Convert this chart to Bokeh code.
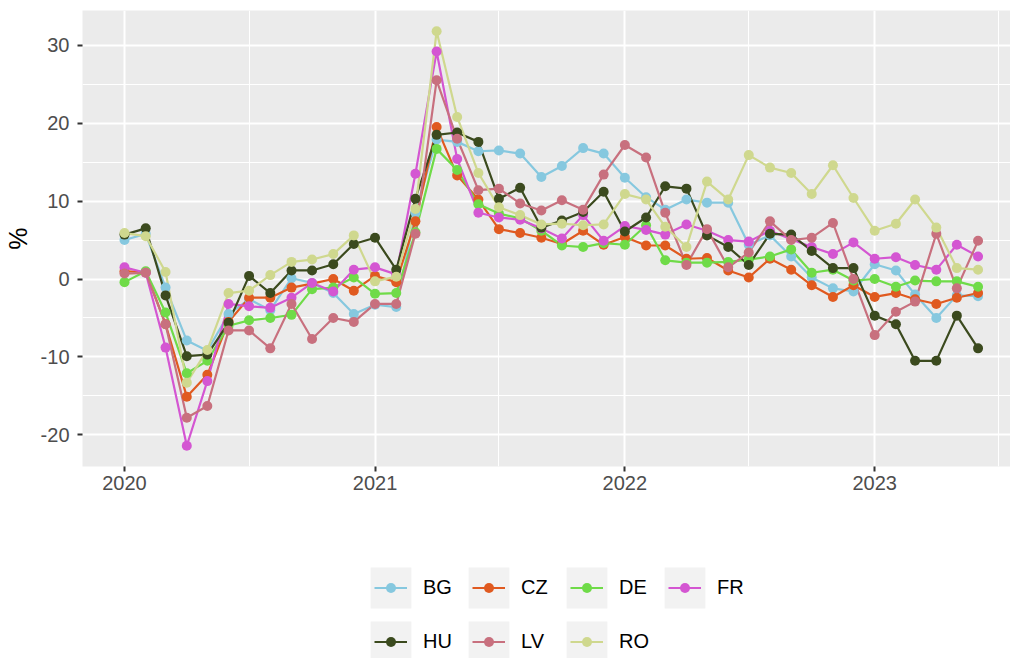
import pandas as pd
from bokeh.plotting import figure
from bokeh.layouts import column
from bokeh.models import (Legend, LegendItem, Range1d, FixedTicker, ColumnDataSource,
                          DatetimeTickFormatter)
from bokeh.embed import file_html
from bokeh.resources import INLINE

# ---------------- data ----------------
months = pd.date_range("2020-01-01", "2023-06-01", freq="MS")

countries = ["BG", "CZ", "DE", "FR", "HU", "LV", "RO"]

BG = [5.0, 5.8, -1.1, -7.9, -9.2, -4.5, -2.6, -4.0, 0.1, -0.5, -1.8, -4.5,
      -3.3, -3.6, 8.5, 17.9, 17.6, 16.4, 16.5, 16.1, 13.1, 14.5, 16.8, 16.1,
      13.0, 10.5, 8.9, 10.2, 9.8, 9.8, 4.4, 5.6, 2.9, 0.2, -1.2, -1.6,
      1.9, 1.1, -2.0, -5.0, -2.1, -2.2]
CZ = [1.0, 0.9, -5.8, -15.1, -12.3, -5.5, -2.4, -2.4, -1.1, -0.6, 0.0, -1.5,
      0.4, -0.4, 7.4, 19.5, 13.3, 10.2, 6.4, 5.9, 5.3, 4.5, 6.2, 4.4,
      5.4, 4.3, 4.3, 2.6, 2.7, 1.1, 0.2, 2.6, 1.2, -0.8, -2.3, -0.8,
      -2.3, -1.8, -2.6, -3.2, -2.4, -1.8]
DE = [-0.4, 1.0, -4.3, -12.1, -10.5, -6.0, -5.3, -5.0, -4.6, -1.3, -1.1, 0.2,
      -1.9, -1.8, 6.0, 16.7, 14.0, 9.6, 8.4, 7.8, 6.2, 4.3, 4.1, 4.6,
      4.4, 6.9, 2.4, 2.1, 2.1, 2.2, 2.5, 2.9, 3.8, 0.8, 1.2, -0.2,
      0.0, -1.0, -0.2, -0.3, -0.3, -1.0]
FR = [1.5, 0.8, -8.8, -21.4, -13.1, -3.2, -3.5, -3.7, -2.4, -0.5, -1.6, 1.2,
      1.5, 0.6, 13.5, 29.2, 15.4, 8.5, 7.9, 7.6, 6.5, 5.2, 8.2, 4.9,
      6.8, 6.3, 5.7, 7.0, 6.2, 5.0, 4.8, 6.2, 5.1, 4.1, 3.2, 4.7,
      2.6, 2.8, 1.8, 1.2, 4.4, 2.9]
HU = [5.7, 6.5, -2.1, -9.9, -9.7, -5.6, 0.4, -1.8, 1.1, 1.1, 1.9, 4.5,
      5.3, 1.2, 10.3, 18.5, 18.8, 17.6, 10.3, 11.7, 6.6, 7.5, 8.6, 11.2,
      6.1, 7.9, 11.9, 11.6, 5.6, 4.1, 1.8, 5.8, 5.7, 3.6, 1.4, 1.4,
      -4.7, -5.8, -10.5, -10.5, -4.7, -8.9]
LV = [0.7, 0.8, -5.8, -17.8, -16.3, -6.6, -6.6, -8.9, -3.2, -7.7, -5.0, -5.5,
      -3.2, -3.2, 5.8, 25.5, 18.0, 11.4, 11.6, 9.7, 8.8, 10.1, 8.9, 13.4,
      17.2, 15.6, 8.5, 1.8, 6.4, 1.5, 3.4, 7.4, 5.0, 5.3, 7.2, 0.0,
      -7.2, -4.2, -2.9, 5.8, -1.2, 4.9]
RO = [5.9, 5.5, 0.9, -13.3, -9.1, -1.8, -1.5, 0.5, 2.2, 2.5, 3.2, 5.6,
      -0.3, 0.3, 9.0, 31.8, 20.8, 13.6, 9.2, 8.2, 7.0, 7.1, 6.9, 7.0,
      10.9, 10.2, 6.7, 4.1, 12.5, 10.2, 15.9, 14.3, 13.6, 10.9, 14.6, 10.4,
      6.2, 7.1, 10.2, 6.6, 1.4, 1.2]

series = {"BG": BG, "CZ": CZ, "DE": DE, "FR": FR, "HU": HU, "LV": LV, "RO": RO}
colors = {"BG": "#86C8DF", "CZ": "#E05A20", "DE": "#6FDB48", "FR": "#D456D2",
          "HU": "#3B4A1E", "LV": "#C8707E", "RO": "#CFD88E"}

y_ticks = [-20, -10, 0, 10, 20, 30]
y_tick_labels = ["-20", "-10", "0", "10", "20", "30"]
y_minor = [-15, -5, 5, 15, 25]
x_tick_years = ["2020-01-01", "2021-01-01", "2022-01-01", "2023-01-01"]
x_minor_dates = ["2020-07-01", "2021-07-01", "2022-07-01", "2023-07-01"]

# ---------------- main figure ----------------
FONT = "Liberation Sans"
origin = pd.Timestamp("2020-01-01")
x_start = (origin - pd.Timedelta(days=61.36)).to_pydatetime()
x_end = (origin + pd.Timedelta(days=1294.4)).to_pydatetime()

p = figure(width=1010, height=510, x_axis_type="datetime",
           x_range=Range1d(x_start, x_end), y_range=Range1d(-24.06, 34.46),
           output_backend="svg", toolbar_location=None,
           min_border_left=82, min_border_right=0, min_border_top=10,
           min_border_bottom=44)
p.background_fill_color = "#EBEBEB"
p.border_fill_color = "white"
p.outline_line_color = None


def ms(d):
    return pd.Timestamp(d).value / 1e6


p.xaxis.ticker = FixedTicker(ticks=[ms(d) for d in x_tick_years],
                             minor_ticks=[ms(d) for d in x_minor_dates])
p.xaxis.formatter = DatetimeTickFormatter(years="%Y", months="%Y", days="%Y",
                                          hours="%Y", minutes="%Y", seconds="%Y",
                                          milliseconds="%Y", microseconds="%Y")
p.yaxis.ticker = FixedTicker(ticks=y_ticks, minor_ticks=y_minor)
p.yaxis.major_label_overrides = dict(zip(y_ticks, y_tick_labels))

for ax in (p.xaxis[0], p.yaxis[0]):
    ax.axis_line_color = None
    ax.major_tick_line_color = "#333333"
    ax.major_tick_line_width = 2
    ax.major_tick_out = 5
    ax.major_tick_in = 0
    ax.minor_tick_line_color = None
    ax.major_label_text_font = FONT
    ax.major_label_text_font_size = "20px"
    ax.major_label_text_color = "#4D4D4D"
p.yaxis.major_label_standoff = 8
p.xaxis.major_label_standoff = 4
p.yaxis.axis_label = "%"
p.yaxis.axis_label_text_font = FONT
p.yaxis.axis_label_text_font_size = "25px"
p.yaxis.axis_label_text_font_style = "normal"
p.yaxis.axis_label_text_color = "black"
p.yaxis.axis_label_standoff = 6

for g in (p.xgrid[0], p.ygrid[0]):
    g.grid_line_color = "white"
    g.grid_line_width = 2
    g.minor_grid_line_color = "white"
    g.minor_grid_line_width = 1

data = {"date": months}
data.update(series)
src = ColumnDataSource(data)

for c in countries:
    p.line(x="date", y=c, source=src, line_color=colors[c], line_width=2.2)
for c in countries:
    p.scatter(x="date", y=c, source=src, size=10, fill_color=colors[c],
              line_color=colors[c], line_width=0)

# ---------------- legend strip ----------------
lg = figure(width=1010, height=148, x_range=Range1d(0, 1), y_range=Range1d(0, 1),
            output_backend="svg", toolbar_location=None,
            x_axis_location=None, y_axis_location=None,
            min_border_left=0, min_border_right=0, min_border_top=0,
            min_border_bottom=0)
lg.grid.visible = False
lg.outline_line_color = None
lg.background_fill_color = "white"
lg.border_fill_color = "white"

nan = float("nan")
key_r = lg.quad(left=[nan], right=[nan], bottom=[nan], top=[nan],
                fill_color="#F2F2F2", line_color=None)
key_line = {c: lg.line(x=[nan], y=[nan], line_color=colors[c], line_width=2.2)
            for c in countries}
key_pt = {c: lg.scatter(x=[nan], y=[nan], size=10, fill_color=colors[c],
                        line_color=colors[c], line_width=0)
          for c in countries}


def make_legend(renderer_map, gw, standoff, vx, show_text):
    items = [LegendItem(label=(c if show_text else ""), renderers=[renderer_map(c)])
             for c in countries]
    leg = Legend(items=items, orientation="horizontal", ncols=4,
                 location=(vx, -8.5), glyph_width=gw, glyph_height=51,
                 label_standoff=standoff, label_width=37, label_height=51,
                 spacing=3, padding=0, margin=0,
                 border_line_color=None, background_fill_alpha=0,
                 label_text_font=FONT, label_text_font_size="20px",
                 label_text_color="black", click_policy="none")
    lg.add_layout(leg)


make_legend(lambda c: key_r, 51, 7, 283, True)
make_legend(lambda c: key_line[c], 33, 25, 292, False)
make_legend(lambda c: key_pt[c], 25, 33, 296, False)

layout = column(p, lg, spacing=0)
open("out.html", "w").write(file_html(layout, INLINE))
